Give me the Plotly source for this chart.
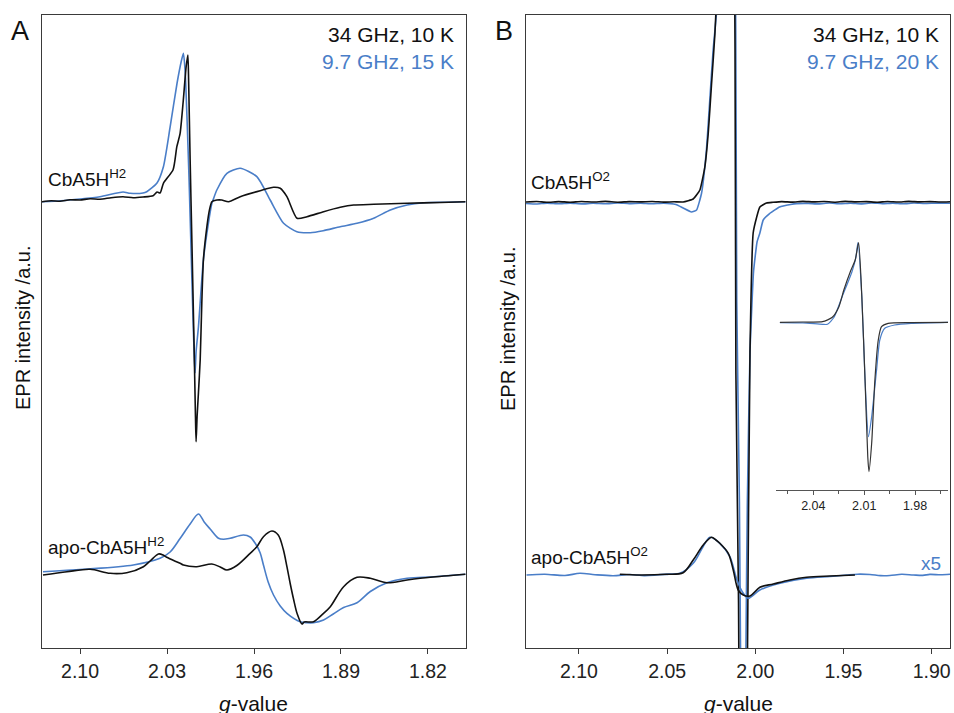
import plotly.graph_objects as go

# ---------------- Panel A data (g-value, intensity a.u. relative to baseline) ----------------
gA_top_black = [2.1306, 2.1230, 2.1161, 2.1081, 2.1000, 2.0919, 2.0839, 2.0750, 2.0654, 2.0573, 2.0493, 2.0412,
                2.0380, 2.0356, 2.0329, 2.0251, 2.0221, 2.0195, 2.0170, 2.0146, 2.0132, 2.0126, 2.0114, 2.0098,
                2.0082, 2.0071, 2.0066, 2.0058, 2.0047, 2.0033, 2.0020, 2.0007, 1.9979, 1.9958, 1.9939,
                1.9899, 1.9859, 1.9805, 1.9711, 1.9550, 1.9443, 1.9389, 1.9335, 1.9254, 1.9174, 1.9040,
                1.8906, 1.8798, 1.8637, 1.8368, 1.8100, 1.7899]
yA_top_black = [0, 1.0, 0.5, 2.0, 1.7, 3.0, 2.5, 4.0, 5.0, 4.0, 4.7, 6.0,
                9.7, 8.7, 18.4, 32, 55, 68, 100, 135, 146.7, 120, 42, -50,
                -145, -215, -240, -215, -191, -158, -101, -58, -25, -8, 0,
                1.7, 1.7, 0, 5, 11, 14.4, 13.4, 5, -16.6, -15, -10,
                -5.6, -3.3, -2.6, -1.6, -0.8, 0]

gA_top_blue = [2.1306, 2.1153, 2.1000, 2.0839, 2.0654, 2.0597, 2.0493, 2.0463, 2.0382, 2.0329, 2.0275,
               2.0219, 2.0186, 2.0168, 2.0154, 2.0138, 2.0122, 2.0106, 2.0090, 2.0079, 2.0074, 2.0066,
               2.0047, 2.0007, 1.9967, 1.9939, 1.9926, 1.9899, 1.9818, 1.9711, 1.9577, 1.9470, 1.9362,
               1.9255, 1.9147, 1.9043, 1.8906, 1.8771, 1.8637, 1.8503, 1.8368, 1.8235, 1.8060, 1.7899]
yA_top_blue = [0, 1.0, 2.7, 5.0, 9.7, 8.4, 8.7, 10.0, 18.4, 35.0, 74.7,
               118.7, 140, 148.4, 130, 80, 20, -50, -120, -160, -171, -150,
               -125, -58, -21.6, -1.6, 3.0, 11.7, 28.4, 33.4, 25.0, 1.7, -21.6,
               -30.0, -31.0, -29.0, -25.0, -21.6, -16.6, -8.3, -3.3, -1.0, -0.5, 0]

gA_bot_black = [2.1298, 2.1105, 2.0919, 2.0758, 2.0624, 2.0490, 2.0436, 2.0369, 2.0331, 2.0302, 2.0195,
                2.0168, 2.0060, 1.9939, 1.9872, 1.9818, 1.9738, 1.9631, 1.9577, 1.9524, 1.9456, 1.9405,
                1.9365, 1.9335, 1.9308, 1.9282, 1.9252, 1.9214, 1.9196, 1.9121, 1.9040, 1.8986, 1.8879,
                1.8771, 1.8664, 1.8530, 1.8368, 1.8181, 1.7899]
yA_bot_black = [-1.0, 2.3, 4.7, 0.7, 1.3, 7.3, 13.0, 20.0, 19.0, 16.7, 10.7,
                9.0, 7.3, 10.0, 7.0, 4.0, 8.5, 20.7, 27.3, 37.3, 43.0, 39.0,
                25.0, 7.3, -10.0, -25.0, -40.0, -50.0, -48.0, -47.7, -39.3, -32.7, -12.7,
                -3.3, -4.3, -8.7, -6.0, -3.3, -0.3]

gA_bot_blue = [2.1298, 2.0973, 2.0571, 2.0356, 2.0275, 2.0195, 2.0114, 2.0047, 2.0001, 1.9953, 1.9886,
               1.9846, 1.9792, 1.9685, 1.9631, 1.9590, 1.9550, 1.9524, 1.9486, 1.9443, 1.9389, 1.9335,
               1.9228, 1.9174, 1.9121, 1.9040, 1.8962, 1.8879, 1.8771, 1.8664, 1.8530, 1.8368, 1.8154, 1.7899]
yA_bot_blue = [2.3, 4.7, 9.0, 15.7, 22.0, 35.5, 50.0, 60.0, 52.0, 45.0, 35.7,
               34.7, 35.7, 39.0, 37.0, 30.7, 21.0, 9.0, -8.0, -21.0, -32.0, -39.3,
               -47.7, -48.7, -48.7, -46.0, -40.0, -33.5, -28.7, -17.5, -8.7, -4.3, -2.7, -0.3]

# ---------------- Panel B data ----------------
gB_top_black = [2.1300, 2.1240, 2.1180, 2.1115, 2.1050, 2.0985, 2.0920, 2.0850, 2.0780, 2.0715, 2.0650,
                2.0585, 2.0520, 2.0460, 2.0409, 2.0352, 2.0314, 2.0286, 2.0267, 2.0248, 2.0229, 2.0210,
                2.0180, 2.0150, 2.0125, 2.0110, 2.0095, 2.0079, 2.0071, 2.0056, 2.0045, 2.0030, 2.0012,
                1.9992, 1.9974, 1.9936, 1.9900, 1.9850, 1.9790, 1.9730, 1.9670, 1.9610, 1.9550, 1.9490,
                1.9430, 1.9370, 1.9310, 1.9250, 1.9190, 1.9130, 1.9070, 1.9010, 1.8950, 1.8896]
yB_top_black = [0, 0.5, -0.3, 0.4, -0.2, 0.5, 0, 0.6, -0.2, 0.4, 0.1,
                0.5, -0.1, 0.2, 0, 3, 12, 35, 68, 118, 168, 240,
                340, 420, 480, -170, -400, -870, -970, -790, -470, -150, -31,
                -15, -5, -1, -0.3, 0.4, -0.1, 0.6, 0.1, 0.5, -0.2, 0.6,
                0.1, 0.4, -0.3, 0.5, 0.0, 0.6, 0.1, 0.4, 0.0, 0.3]

gB_top_blue = [2.1300, 2.1240, 2.1180, 2.1115, 2.1050, 2.0985, 2.0920, 2.0850, 2.0780, 2.0715, 2.0650,
               2.0585, 2.0520, 2.0450, 2.0409, 2.0362, 2.0333, 2.0305, 2.0277, 2.0258, 2.0239, 2.0221,
               2.0200, 2.0170, 2.0140, 2.0122, 2.0105, 2.0090, 2.0075, 2.0065, 2.0060, 2.0053, 2.0045,
               2.0030, 2.0010, 1.9990, 1.9974, 1.9955, 1.9919, 1.9862, 1.9800, 1.9766, 1.9700, 1.9640,
               1.9580, 1.9520, 1.9460, 1.9400, 1.9340, 1.9280, 1.9220, 1.9160, 1.9100, 1.9040, 1.8970, 1.8896]
yB_top_blue = [-1.5, -2.0, -1.1, -1.7, -1.1, -1.9, -1.3, -1.8, -1.0, -1.6, -1.2,
               -1.8, -1.1, -2.5, -6, -10, -8, 8.5, 52, 102, 152, 187,
               260, 350, 420, 450, -100, -300, -650, -750, -700, -446, -300,
               -150, -70, -40, -31, -18, -11.6, -5, -2.5, -1.6, -1.4, -1.9,
               -1.0, -1.7, -1.2, -1.9, -1.0, -1.6, -1.1, -1.8, -1.0, -1.5, -1.1, -1.3]

gB_apo_black = [2.0768, 2.0654, 2.0503, 2.0409, 2.0352, 2.0295, 2.0248, 2.0223, 2.0201, 2.0153, 2.0125,
                2.0097, 2.0068, 2.0030, 1.9974, 1.9898, 1.9804, 1.9709, 1.9577, 1.9435]
yB_apo_black = [0.7, 0, 0.7, 2.3, 15, 30, 37.7, 35, 31.7, 21.7, 5,
                -15, -20, -21, -12.3, -9, -5, -2.3, -1, 0]

gB_apo_blue = [2.1297, 2.1193, 2.1079, 2.0994, 2.0909, 2.0806, 2.0711, 2.0630, 2.0559, 2.0490, 2.0427,
               2.0352, 2.0297, 2.0257, 2.0201, 2.0144, 2.0104, 2.0068, 2.0040, 1.9974, 1.9860, 1.9709,
               1.9577, 1.9482, 1.9420, 1.9350, 1.9290, 1.9237, 1.9170, 1.9104, 1.9050, 1.9010, 1.8950, 1.8896]
yB_apo_blue = [0, 0.8, -0.5, 1.7, 0.3, -0.7, 0.5, -0.6, 0, 0.9, 1.7,
               11.7, 28, 37.7, 31.7, 18.3, -5, -18.3, -23.3, -15, -8.3, -3.3,
               -1.5, 0, 0.8, 0.5, -0.6, -0.5, 0.7, 0, -0.4, 0.6, 0.2, 0.7]

# inset (same two spectra, full scale)
gI_black = [2.0597, 2.0462, 2.0346, 2.0288, 2.0249, 2.0220, 2.0182, 2.0153, 2.0133, 2.0114, 2.0095,
            2.0079, 2.0072, 2.0056, 2.0037, 2.0017, 1.9998, 1.9959, 1.9824, 1.9604]
yI_black = [0, 0.3, 0.6, 5, 15.6, 32.3, 50.6, 62.3, 79.6, 25.6, -57.7,
            -134.4, -149.4, -121, -57.7, -17.7, -4.4, -1, -0.3, 0]

gI_blue = [2.0597, 2.0462, 2.0346, 2.0317, 2.0278, 2.0230, 2.0172, 2.0149, 2.0137, 2.0114, 2.0095,
           2.0075, 2.0056, 2.0027, 2.0008, 1.9979, 1.9921, 1.9824, 1.9604]
yI_blue = [-0.3, -0.6, -2, -2, 5, 25.6, 50.6, 65, 79.6, 25.6, -57.7,
           -114.4, -94.4, -47.7, -17.7, -6, -2.7, -1, 0]

# stacking offsets (baseline of each spectrum, a.u.)
OFF_A_TOP, OFF_A_BOT = 446.3, 74.0
OFF_B_TOP, OFF_B_BOT = 446.0, 73.0

BLUE = "#4a7ec8"
BLACK = "#111111"
FRAME = "#3a3a3a"
FONT = "Arial, Liberation Sans, sans-serif"
W, H = 954, 713


def shift(vals, off):
    return [v + off for v in vals]


fig = go.Figure()
lw = 1.6


def line(x, y, color, xa, ya, width=lw, smooth=0.6):
    fig.add_trace(go.Scatter(x=x, y=y, mode="lines",
                             line=dict(color=color, width=width, shape="spline", smoothing=smooth),
                             xaxis=xa, yaxis=ya, hoverinfo="skip"))


# Panel A
line(gA_top_blue, shift(yA_top_blue, OFF_A_TOP), BLUE, "x", "y")
line(gA_top_black, shift(yA_top_black, OFF_A_TOP), BLACK, "x", "y")
line(gA_bot_blue, shift(yA_bot_blue, OFF_A_BOT), BLUE, "x", "y", smooth=0.9)
line(gA_bot_black, shift(yA_bot_black, OFF_A_BOT), BLACK, "x", "y", smooth=0.9)
# Panel B
line(gB_top_blue, shift(yB_top_blue, OFF_B_TOP), BLUE, "x2", "y2", smooth=0.4)
line(gB_top_black, shift(yB_top_black, OFF_B_TOP), BLACK, "x2", "y2", smooth=0.4)
line(gB_apo_blue, shift(yB_apo_blue, OFF_B_BOT), BLUE, "x2", "y2", smooth=0.9)
line(gB_apo_black, shift(yB_apo_black, OFF_B_BOT), BLACK, "x2", "y2", smooth=0.9)
# Inset
line(gI_blue, yI_blue, BLUE, "x3", "y3", width=1.2, smooth=0.6)
line(gI_black, yI_black, "#333333", "x3", "y3", width=1.2, smooth=0.6)

ydom = [1 - 648 / H, 1 - 15 / H]
tickfont = dict(family=FONT, size=19.5, color="#222")
common_x = dict(showline=True, mirror=True, linecolor=FRAME, linewidth=1.3, ticks="outside", ticklen=5,
                tickcolor=FRAME, tickwidth=1.2, tickfont=tickfont, showgrid=False, zeroline=False,
                tickformat=".2f")
common_y = dict(showline=True, mirror=True, linecolor=FRAME, linewidth=1.3, ticks="", showticklabels=False,
                showgrid=False, zeroline=False, range=[0, 633], domain=ydom)

fig.update_layout(
    width=W, height=H, margin=dict(l=0, r=0, t=0, b=0), showlegend=False,
    paper_bgcolor="white", plot_bgcolor="white",
    xaxis=dict(domain=[42 / W, 466 / W], range=[2.1306, 1.7894], tick0=1.82, dtick=0.07, anchor="y", **common_x),
    yaxis=dict(anchor="x", **common_y),
    xaxis2=dict(domain=[526 / W, 950 / W], range=[2.130, 1.8896], tick0=1.90, dtick=0.05, anchor="y2", **common_x),
    yaxis2=dict(anchor="x2", **common_y),
    xaxis3=dict(domain=[776 / W, 948 / W], range=[2.062, 1.9606], tick0=2.01, dtick=0.03, anchor="y3",
                showline=True, mirror=False, linecolor="#555", linewidth=1, ticks="outside", ticklen=4,
                tickcolor="#555", tickwidth=1, tickfont=dict(family=FONT, size=12.5, color="#222"),
                tickformat=".2f", showgrid=False, zeroline=False,
                minor=dict(dtick=0.015, tick0=2.01, ticks="outside", ticklen=3, tickcolor="#555", tickwidth=1)),
    yaxis3=dict(domain=[1 - 490 / H, 1 - 235 / H], range=[-167.7, 87.3], anchor="x3", visible=False),
)


def px(x, y):
    return x / W, 1 - y / H


def ann(text, x, y, size, color="#111", xanchor="left", angle=0):
    ax, ay = px(x, y)
    fig.add_annotation(text=text, x=ax, y=ay, xref="paper", yref="paper", showarrow=False,
                       xanchor=xanchor, yanchor="middle", textangle=angle,
                       font=dict(family=FONT, size=size, color=color))


ann("A", 9, 31, 27)
ann("B", 493, 31, 27)
ann("34 GHz, 10 K", 456, 35, 21, xanchor="right")
ann("9.7 GHz, 15 K", 456, 61, 21, color=BLUE, xanchor="right")
ann("34 GHz, 10 K", 941, 35, 21, xanchor="right")
ann("9.7 GHz, 20 K", 941, 61, 21, color=BLUE, xanchor="right")
ann("CbA5H<sup>H2</sup>", 46, 178, 19)
ann("apo-CbA5H<sup>H2</sup>", 46, 546, 19)
ann("CbA5H<sup>O2</sup>", 529, 181, 19)
ann("apo-CbA5H<sup>O2</sup>", 529, 556, 19)
ann("x5", 943, 563, 19, color=BLUE, xanchor="right")
ann("EPR intensity /a.u.", 23, 328, 20, angle=-90, xanchor="center")
ann("EPR intensity /a.u.", 508, 328, 20, angle=-90, xanchor="center")
ann("<i>g</i>-value", 254, 703, 21, xanchor="center")
ann("<i>g</i>-value", 738, 703, 21, xanchor="center")

fig.write_html("out.html")
